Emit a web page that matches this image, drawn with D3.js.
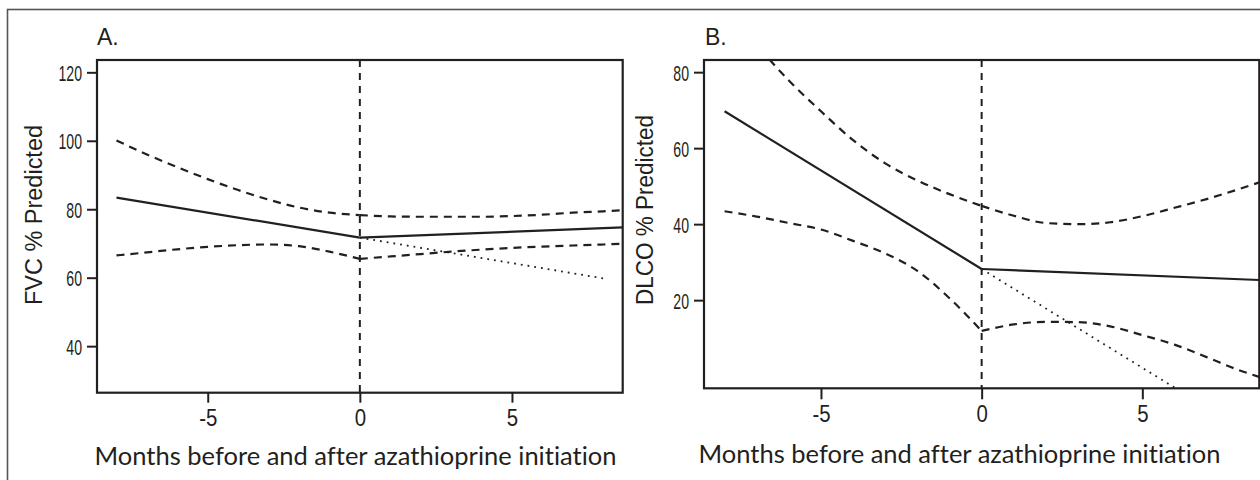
<!DOCTYPE html>
<html>
<head>
<meta charset="utf-8">
<script src="https://cdn.jsdelivr.net/npm/d3@7"></script>
<style>
  body { margin: 0; background: #fff; }
  svg { display: block; }
  text { font-variant-ligatures: none; }
</style>
</head>
<body>
<svg id="fig" width="1260" height="480"></svg>
<script>
// ---- shared month axis ----
const monthLimits = [-8, 8];
const monthTicks = [-5, 0, 5];
const monthsBefore = [-8, -7, -6, -5, -4, -3, -2, -1, 0];
const monthsAfter = [0, 1, 2, 3, 4, 5, 6, 7, 8, 8.64];
const fitMonthsBefore = [-8, 0];
const fitMonthsAfter = [0, 8.64];
const projectedMonths = [0, 8];

// ---- A. FVC % predicted ----
const fvcLimits = [30, 120];
const fvcTicks = [40, 60, 80, 100, 120];
const fvcFitBefore = [83.4, 71.7];
const fvcFitAfter = [71.7, 74.7];
const fvcProjected = [71.7, 59.8];
const fvcUpperBefore = [100.1, 96.0, 92.3, 88.8, 85.6, 82.8, 80.5, 79.0, 78.3];
const fvcLowerBefore = [66.5, 67.4, 68.3, 69.0, 69.5, 69.7, 69.2, 67.6, 65.5];
const fvcUpperAfter = [78.3, 77.9, 77.8, 77.8, 77.8, 78.0, 78.4, 79.0, 79.4, 79.7];
const fvcLowerAfter = [65.5, 66.2, 66.9, 67.6, 68.2, 68.7, 69.1, 69.4, 69.7, 69.9];

// ---- B. DLCO % predicted ----
const dlcoLimits = [0, 80];
const dlcoTicks = [20, 40, 60, 80];
const dlcoFitBefore = [69.7, 28.2];
const dlcoFitAfter = [28.2, 25.3];
const dlcoProjected = [28.2, -13.4];
const dlcoUpperBefore = [97.5, 87.2, 77.8, 69.7, 62.1, 56.0, 51.5, 47.9, 44.8];
const dlcoLowerBefore = [43.4, 42.0, 40.3, 38.6, 35.6, 32.3, 27.7, 20.5, 11.9];
const dlcoUpperAfter = [44.8, 42.2, 40.3, 40.0, 40.5, 42.1, 44.3, 46.6, 49.2, 51.0];
const dlcoLowerAfter = [11.9, 13.6, 14.3, 14.2, 13.1, 10.8, 8.3, 5.0, 1.6, -0.2];

const xTitle = "Months before and after azathioprine initiation";

const ink = "#231f20";
const svg = d3.select("#fig");

// outer figure frame
svg.append("rect")
  .attr("x", 7.5).attr("y", 9.5)
  .attr("width", 1300).attr("height", 520)
  .attr("fill", "none").attr("stroke", "#555").attr("stroke-width", 1.6);

// pad limits by 4% on both sides, like a classic statistics plot
function padded(lim) {
  const p = (lim[1] - lim[0]) * 0.04;
  return [lim[0] - p, lim[1] + p];
}

const zip = (xs, ys) => xs.map((v, i) => [v, ys[i]]);
const plainNumber = d => String(d);   // ASCII hyphen for negatives

function drawPanel(cfg) {
  const { left, right, top, bottom } = cfg.box;
  const x = d3.scaleLinear().domain(padded(monthLimits)).range([left, right]);
  const y = d3.scaleLinear().domain(padded(cfg.limits)).range([bottom, top]);
  const g = svg.append("g");

  const clipId = "clip-" + cfg.id;
  svg.append("defs").append("clipPath").attr("id", clipId)
    .append("rect").attr("x", left).attr("y", top)
    .attr("width", right - left).attr("height", bottom - top);

  const plot = g.append("g").attr("clip-path", `url(#${clipId})`);

  const straight = d3.line().x(d => x(d[0])).y(d => y(d[1]));
  const smooth = d3.line().x(d => x(d[0])).y(d => y(d[1])).curve(d3.curveMonotoneX);

  // reference line at azathioprine start
  plot.append("line")
    .attr("x1", x(0)).attr("x2", x(0)).attr("y1", top).attr("y2", bottom)
    .attr("stroke", ink).attr("stroke-width", 2).attr("stroke-dasharray", "7,6");

  // confidence bands
  [
    zip(monthsBefore, cfg.upperBefore),
    zip(monthsBefore, cfg.lowerBefore),
    zip(monthsAfter, cfg.upperAfter),
    zip(monthsAfter, cfg.lowerAfter)
  ].forEach(pts => {
    plot.append("path").attr("d", smooth(pts))
      .attr("fill", "none").attr("stroke", ink)
      .attr("stroke-width", 2.2).attr("stroke-dasharray", "8,6");
  });

  // projected pre-treatment trajectory
  plot.append("path").attr("d", straight(zip(projectedMonths, cfg.projected)))
    .attr("fill", "none").attr("stroke", ink)
    .attr("stroke-width", 1.8).attr("stroke-dasharray", "1.8,5");

  // fitted slopes
  [zip(fitMonthsBefore, cfg.fitBefore), zip(fitMonthsAfter, cfg.fitAfter)].forEach(pts => {
    plot.append("path").attr("d", straight(pts))
      .attr("fill", "none").attr("stroke", ink).attr("stroke-width", 2.2);
  });

  // plot box
  g.append("rect")
    .attr("x", left).attr("y", top)
    .attr("width", right - left).attr("height", bottom - top)
    .attr("fill", "none").attr("stroke", ink).attr("stroke-width", 2.2);

  // y axis
  const yAxis = g.append("g").attr("transform", `translate(${left},0)`)
    .call(d3.axisLeft(y).tickValues(cfg.ticks).tickFormat(plainNumber)
      .tickSize(10).tickSizeOuter(0).tickPadding(5));
  yAxis.select(".domain").remove();
  yAxis.selectAll(".tick line").attr("stroke", ink).attr("stroke-width", 2);
  yAxis.selectAll(".tick text")
    .attr("x", 0).attr("dy", "0.36em")
    .attr("transform", "translate(-15,0) scale(0.64,1)")
    .attr("fill", ink)
    .style("font-family", "'Liberation Sans', Arial, sans-serif")
    .style("font-size", "22px");

  // x axis (labels narrowed around their own centre)
  const xAxis = g.append("g").attr("transform", `translate(0,${bottom})`)
    .call(d3.axisBottom(x).tickValues(monthTicks).tickFormat(plainNumber)
      .tickSize(cfg.xTick).tickSizeOuter(0).tickPadding(6));
  xAxis.select(".domain").remove();
  xAxis.selectAll(".tick line").attr("stroke", ink).attr("stroke-width", 2);
  xAxis.selectAll(".tick text")
    .attr("fill", ink)
    .attr("transform", "scale(0.85,1)")
    .style("font-family", "'Liberation Sans', Arial, sans-serif")
    .style("font-size", "24px");

  // panel letter
  g.append("text").attr("x", cfg.letterX).attr("y", 45)
    .attr("fill", ink)
    .style("font-family", "'Liberation Sans', Arial, sans-serif")
    .style("font-size", "23px")
    .text(cfg.letter);

  // y title
  g.append("text")
    .attr("transform", `translate(${cfg.yTitleX},${cfg.yTitleY}) rotate(-90)`)
    .attr("text-anchor", "middle")
    .attr("textLength", cfg.yTitleLen).attr("lengthAdjust", "spacingAndGlyphs")
    .attr("fill", ink)
    .style("font-family", "'Liberation Sans', Arial, sans-serif")
    .style("font-size", "23px")
    .text(cfg.yTitle);

  // x title
  g.append("text")
    .attr("x", cfg.xTitleX).attr("y", cfg.xTitleY)
    .attr("textLength", 522).attr("lengthAdjust", "spacingAndGlyphs")
    .attr("fill", ink)
    .style("font-family", "Lato, 'Open Sans', sans-serif")
    .style("font-size", "25px")
    .text(xTitle);
}

drawPanel({
  id: "fvc", letter: "A.", letterX: 97,
  box: { left: 97, right: 622.7, top: 60, bottom: 392.7 },
  limits: fvcLimits, ticks: fvcTicks, xTick: 10,
  fitBefore: fvcFitBefore, fitAfter: fvcFitAfter, projected: fvcProjected,
  upperBefore: fvcUpperBefore, lowerBefore: fvcLowerBefore,
  upperAfter: fvcUpperAfter, lowerAfter: fvcLowerAfter,
  yTitle: "FVC % Predicted", yTitleX: 41.5, yTitleY: 215, yTitleLen: 180,
  xTitleX: 94.5, xTitleY: 465
});

drawPanel({
  id: "dlco", letter: "B.", letterX: 705,
  box: { left: 704, right: 1259.3, top: 60, bottom: 388.3 },
  limits: dlcoLimits, ticks: dlcoTicks, xTick: 11,
  fitBefore: dlcoFitBefore, fitAfter: dlcoFitAfter, projected: dlcoProjected,
  upperBefore: dlcoUpperBefore, lowerBefore: dlcoLowerBefore,
  upperAfter: dlcoUpperAfter, lowerAfter: dlcoLowerAfter,
  yTitle: "DLCO % Predicted", yTitleX: 653, yTitleY: 210, yTitleLen: 190,
  xTitleX: 698.5, xTitleY: 463
});
</script>
</body>
</html>
